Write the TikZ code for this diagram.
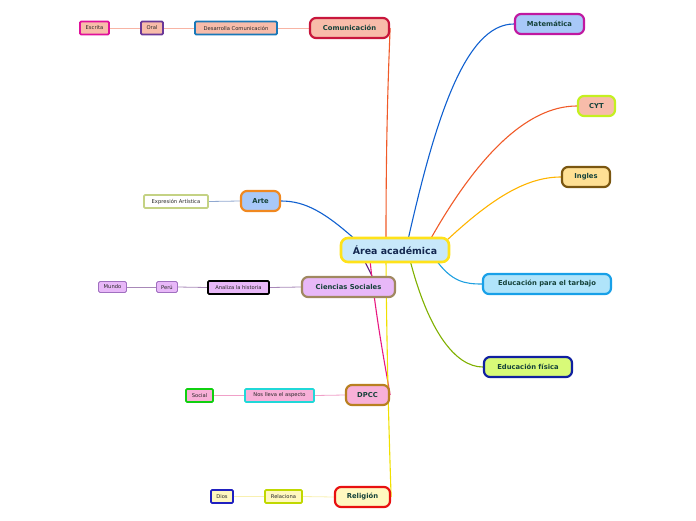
\documentclass[tikz,border=0pt]{standalone}
\usepackage{fontspec}
\setmainfont{DejaVu Sans}
\usetikzlibrary{backgrounds}
\definecolor{mainfill}{HTML}{C8E8FA}
\definecolor{mainborder}{HTML}{FFE21A}
\definecolor{maintext}{HTML}{142850}
\definecolor{topictext}{HTML}{15423A}
\definecolor{salmon}{HTML}{F8BCAA}
\definecolor{salmonline}{HTML}{F8B4A4}
\definecolor{crimson}{HTML}{C8163C}
\definecolor{bluebd}{HTML}{1A78B8}
\definecolor{purplebd}{HTML}{6A3898}
\definecolor{magentabd}{HTML}{E0109A}
\definecolor{ltblue}{HTML}{A8C8F8}
\definecolor{matbd}{HTML}{C018A0}
\definecolor{limebd}{HTML}{C4F020}
\definecolor{ingfill}{HTML}{FFE094}
\definecolor{ingbd}{HTML}{7A5610}
\definecolor{edtfill}{HTML}{B0E4FA}
\definecolor{edtbd}{HTML}{18A0E8}
\definecolor{edffill}{HTML}{D8FA78}
\definecolor{edfbd}{HTML}{1020A0}
\definecolor{artebd}{HTML}{F08820}
\definecolor{expbd}{HTML}{C4D284}
\definecolor{lav}{HTML}{E8B8F8}
\definecolor{csbd}{HTML}{A08860}
\definecolor{lavbd}{HTML}{A070C0}
\definecolor{lavline}{HTML}{A888B8}
\definecolor{pink}{HTML}{F8B0D8}
\definecolor{dpccbd}{HTML}{B88020}
\definecolor{cyanbd}{HTML}{20D8D8}
\definecolor{greenbd}{HTML}{10D010}
\definecolor{pinkline}{HTML}{F0A0C8}
\definecolor{ltyellow}{HTML}{FFF8C0}
\definecolor{redbd}{HTML}{E81010}
\definecolor{relbd}{HTML}{C0D800}
\definecolor{diosbd}{HTML}{2020C0}
\definecolor{yline}{HTML}{F8F0B0}
\definecolor{cBlue}{HTML}{1060D0}
\definecolor{cOrange}{HTML}{F05A28}
\definecolor{cGold}{HTML}{FFB400}
\definecolor{cSky}{HTML}{20A0E0}
\definecolor{cOlive}{HTML}{80B000}
\definecolor{cPurple}{HTML}{602080}
\definecolor{cPink}{HTML}{E81880}
\definecolor{cYellow}{HTML}{F0E000}
\definecolor{artline}{HTML}{90A8D0}
\tikzset{
  mainnode/.style={draw=mainborder, fill=mainfill, line width=2.6pt, rounded corners=7pt,
    minimum width=108pt, minimum height=24pt, inner sep=1pt, text=maintext,
    font=\fontsize{9.4}{10}\selectfont\bfseries},
  topic/.style={line width=2.2pt, rounded corners=6pt, minimum height=20pt, inner sep=2pt,
    text=topictext, font=\fontsize{6.8}{8}\selectfont\bfseries},
  leaf/.style={line width=1.8pt, rounded corners=1.2pt, minimum height=13pt, inner sep=2pt,
    text=black!85, font=\fontsize{5.2}{6}\selectfont},
  thinleaf/.style={line width=0.9pt, rounded corners=1.5pt, minimum height=11pt, inner sep=2pt,
    text=black!85, font=\fontsize{5.2}{6}\selectfont},
  branch/.style={line width=1.1pt},
  twig/.style={line width=0.8pt}
}
\begin{document}
\begin{tikzpicture}[x=1pt,y=-1pt]
\useasboundingbox (0,0) rectangle (696,520);
% main
\node[mainnode] (main) at (395,250) {Área académica};
% topics
\node[topic, draw=crimson, fill=salmon, minimum width=79pt] (com) at (349.5,28) {Comunicación};
\node[topic, draw=matbd, fill=ltblue, minimum width=69pt] (mat) at (549.5,24) {Matemática};
\node[topic, draw=limebd, fill=salmon, minimum width=37pt] (cyt) at (596.5,106) {CYT};
\node[topic, draw=ingbd, fill=ingfill, minimum width=48pt] (ing) at (586,177) {Ingles};
\node[topic, draw=edtbd, fill=edtfill, minimum width=128pt] (edt) at (547,284) {Educación para el tarbajo};
\node[topic, draw=edfbd, fill=edffill, minimum width=88pt] (edf) at (528,367) {Educación física};
\node[topic, draw=artebd, fill=ltblue, minimum width=39pt] (arte) at (260.5,201) {Arte};
\node[topic, draw=csbd, fill=lav, minimum width=93pt] (cs) at (348.5,287) {Ciencias Sociales};
\node[topic, draw=dpccbd, fill=pink, minimum width=43pt] (dpcc) at (367.5,395) {DPCC};
\node[topic, draw=redbd, fill=ltyellow, minimum width=55pt] (rel) at (362.5,497) {Religión};
% leaves
\node[leaf, draw=bluebd, fill=salmon, minimum width=82pt] (desc) at (236,28) {Desarrolla Comunicación};
\node[leaf, draw=purplebd, fill=salmon, minimum width=22pt] (oral) at (152,28) {Oral};
\node[leaf, draw=magentabd, fill=salmon, minimum width=29pt] (esc) at (94.5,28) {Escrita};
\node[leaf, draw=expbd, fill=white, minimum width=64pt] (exp) at (176,201.5) {Expresión Artística};
\node[leaf, draw=black, fill=lav, minimum width=61pt] (ana) at (238.5,287.5) {Analiza la historia};
\node[thinleaf, draw=lavbd, fill=lav, minimum width=21pt] (peru) at (167,287) {Perú};
\node[thinleaf, draw=lavbd, fill=lav, minimum width=28pt] (mundo) at (112.5,287) {Mundo};
\node[leaf, draw=cyanbd, fill=pink, minimum width=69pt] (nos) at (279.5,395.5) {Nos lleva el aspecto};
\node[leaf, draw=greenbd, fill=pink, minimum width=27pt] (soc) at (199.5,395.5) {Social};
\node[leaf, draw=relbd, fill=ltyellow, minimum width=37pt] (rela) at (283.5,496.5) {Relaciona};
\node[leaf, draw=diosbd, fill=ltyellow, minimum width=22pt] (dios) at (222,496.5) {Dios};
% branch start points on main node
\coordinate (sCom) at (386,240);
\coordinate (sMat) at (408,240);
\coordinate (sCyt) at (430,240);
\coordinate (sIng) at (446,241);
\coordinate (sEdt) at (436,260);
\coordinate (sEdf) at (410,260);
\coordinate (sArte) at (358,242);
\coordinate (sCs) at (364,260);
\coordinate (sDpcc) at (370,260);
\coordinate (sRel) at (386,260);
\begin{pgfonlayer}{background}
% branches
\draw[branch, cOrange] (sCom) .. controls (386,120) and (389,60) .. (com.east);
\draw[branch, cBlue] (sMat) .. controls (435,120) and (465,24) .. (mat.west);
\draw[branch, cOrange] (sCyt) .. controls (475,160) and (525,106) .. (cyt.west);
\draw[branch, cGold] (sIng) .. controls (490,200) and (525,177) .. (ing.west);
\draw[branch, cSky] (sEdt) .. controls (452,282) and (465,284) .. (edt.west);
\draw[branch, cOlive] (sEdf) .. controls (428,330) and (455,367) .. (edf.west);
\draw[branch, cBlue] (sArte) .. controls (325,212) and (305,201) .. (arte.east);
\draw[branch, cPurple] (sCs) -- (cs.north -| 372,0);
\draw[branch, cPink] (sDpcc) .. controls (376,320) and (386,370) .. (dpcc.east);
\draw[branch, cYellow] (sRel) .. controls (387,380) and (390,460) .. (rel.east);
% twigs
\draw[twig, salmonline] (com.west) -- (desc.east);
\draw[twig, salmonline] (desc.west) -- (oral.east);
\draw[twig, salmonline] (oral.west) -- (esc.east);
\draw[twig, artline] (arte.west) -- (exp.east);
\draw[twig, lavline] (cs.west) -- (ana.east);
\draw[twig, lavline] (ana.west) -- (peru.east);
\draw[twig, lavline] (peru.west) -- (mundo.east);
\draw[twig, pinkline] (dpcc.west) -- (nos.east);
\draw[twig, pinkline] (nos.west) -- (soc.east);
\draw[twig, yline] (rel.west) -- (rela.east);
\draw[twig, yline] (rela.west) -- (dios.east);
\end{pgfonlayer}
\end{tikzpicture}
\end{document}
